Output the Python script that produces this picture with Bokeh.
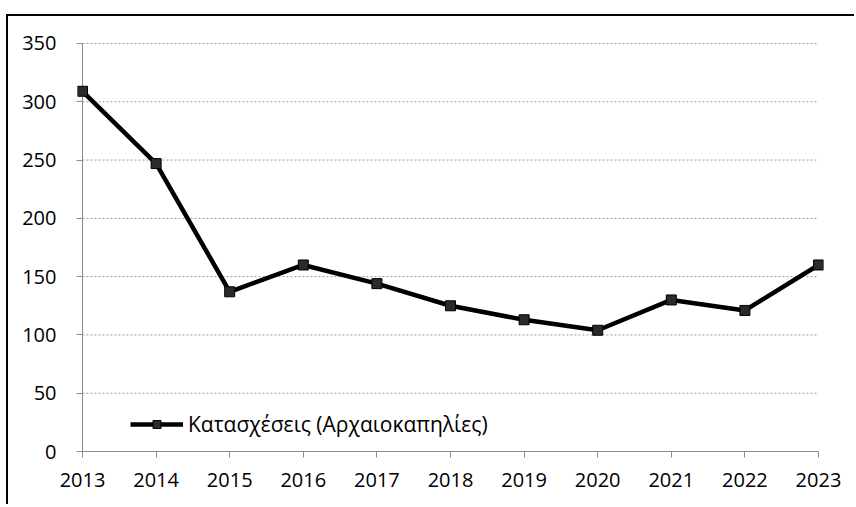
from bokeh.plotting import figure
from bokeh.models import FixedTicker, Range1d
from bokeh.embed import file_html
from bokeh.resources import INLINE

years = [2013, 2014, 2015, 2016, 2017, 2018, 2019, 2020, 2021, 2022, 2023]
seizures = [309, 247, 137, 160, 144, 125, 113, 104, 130, 121, 160]
y_ticks = [0, 50, 100, 150, 200, 250, 300, 350]
series_label = "Κατασχέσεις (Αρχαιοκαπηλίες)"

FONT = "Open Sans"
FSIZE = "20px"
AXIS_GRAY = "#8c8c8c"

p = figure(width=848, height=490, output_backend="svg", toolbar_location=None,
           x_range=Range1d(2012.932, 2023.068), y_range=Range1d(0, 351.7),
           min_border_left=69, min_border_right=33, min_border_top=25, min_border_bottom=55)
p.styles = {"border-top": "2px solid #000", "border-left": "2px solid #000",
            "margin-left": "6px", "margin-top": "14px"}
p.outline_line_color = None
p.background_fill_color = "white"
p.border_fill_color = "white"
p.xgrid.visible = False
p.ygrid.visible = False

# dotted gridlines between first and last year
grid_y = [t for t in y_ticks if t > 0]
p.segment(x0=[years[0]] * len(grid_y), x1=[years[-1]] * len(grid_y), y0=grid_y, y1=grid_y,
          line_color="#9a9a9a", line_width=1, line_dash="2 2")
# vertical value axis line at first year
p.segment(x0=[years[0]], x1=[years[0]], y0=[y_ticks[0]], y1=[y_ticks[-1]],
          line_color=AXIS_GRAY, line_width=1)

p.line(years, seizures, line_color="black", line_width=4.5, legend_label=series_label)
p.scatter(years, seizures, marker="square", size=10, fill_color="#2a2a2a",
          line_color="black", line_width=1, legend_label=series_label)

# x axis
xa = p.xaxis[0]
xa.ticker = FixedTicker(ticks=years)
xa.bounds = (years[0], years[-1])
xa.axis_line_color = AXIS_GRAY
xa.major_tick_line_color = AXIS_GRAY
xa.major_tick_in = 0
xa.major_tick_out = 6
xa.minor_tick_line_color = None
xa.major_label_text_font = FONT
xa.major_label_text_font_size = FSIZE
xa.major_label_text_color = "black"
xa.major_label_standoff = 15

# y axis
ya = p.yaxis[0]
ya.ticker = FixedTicker(ticks=y_ticks)
ya.axis_line_color = None
ya.major_tick_line_color = AXIS_GRAY
ya.major_tick_in = 5
ya.major_tick_out = 1
ya.minor_tick_line_color = None
ya.major_label_text_font = FONT
ya.major_label_text_font_size = FSIZE
ya.major_label_text_color = "black"
ya.major_label_standoff = 20

lg = p.legend[0]
lg.location = (53, 13)
lg.padding = 0
lg.margin = 0
lg.spacing = 0
lg.border_line_color = None
lg.background_fill_alpha = 0
lg.glyph_width = 53
lg.glyph_height = 20
lg.label_height = 20
lg.label_standoff = 5
lg.label_text_font = FONT
lg.label_text_font_size = "21px"
lg.label_text_color = "black"

open("out.html", "w").write(file_html(p, INLINE))
